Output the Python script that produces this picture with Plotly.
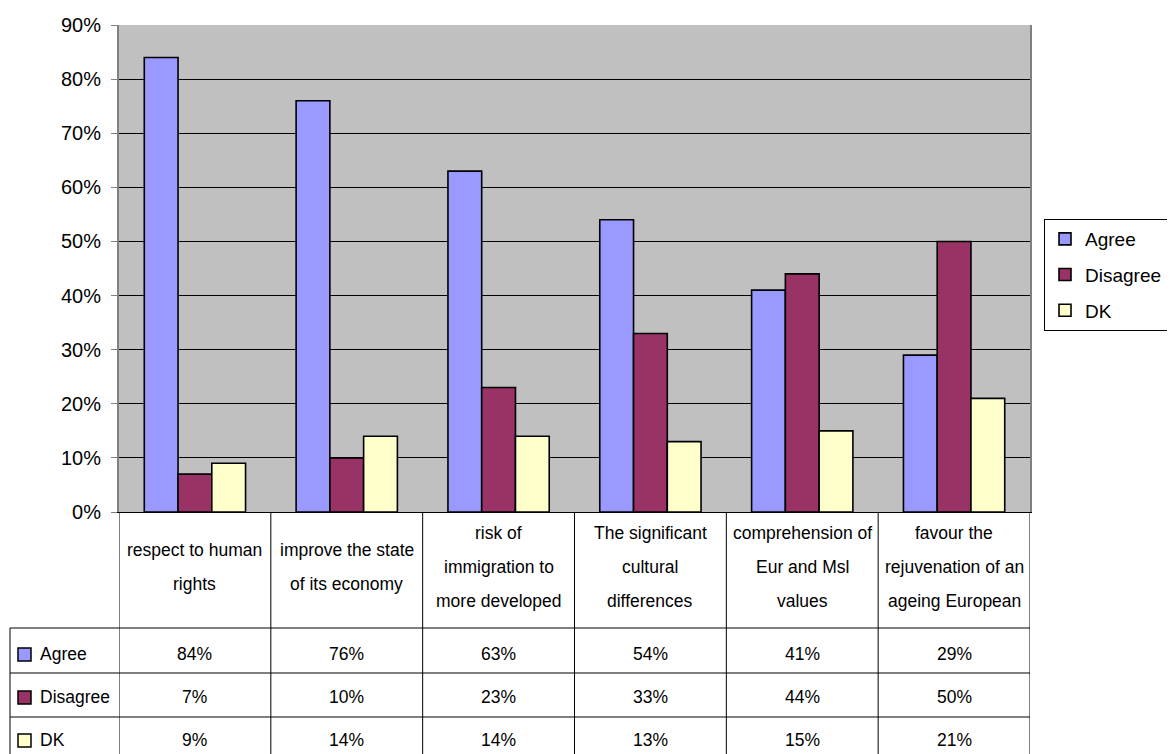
import plotly.graph_objects as go

categories = [
    "respect to human<br>rights",
    "improve the state<br>of its economy",
    "risk of<br>immigration to<br>more developed",
    "The significant<br>cultural<br>differences",
    "comprehension of<br>Eur and Msl<br>values",
    "favour the<br>rejuvenation of an<br>ageing European",
]
series_names = ["Agree", "Disagree", "DK"]
agree = [0.84, 0.76, 0.63, 0.54, 0.41, 0.29]
disagree = [0.07, 0.10, 0.23, 0.33, 0.44, 0.50]
dk = [0.09, 0.14, 0.14, 0.13, 0.15, 0.21]
colors = ["#9999FF", "#993366", "#FFFFCC"]
y_ticks = [0, 0.1, 0.2, 0.3, 0.4, 0.5, 0.6, 0.7, 0.8, 0.9]

# page body has an 8px default margin; size the figure to the visible window
OFF = 8
W, H = 1175 - OFF, 754 - OFF
def px(x):
    return (x - OFF) / W
def py(y):
    return 1 - (y - OFF) / H

x_pos = list(range(len(categories)))
values = [agree, disagree, dk]

fig = go.Figure()
for i, (name, vals) in enumerate(zip(series_names, values)):
    fig.add_trace(go.Bar(
        x=x_pos, y=vals, name=name,
        marker=dict(color=colors[i], line=dict(color="black", width=1.6)),
        legendgroup=name,
    ))

PLOT_L, PLOT_R, PLOT_T, PLOT_B = 119, 1030, 25, 512
TICK_FONT = dict(family="Liberation Sans, Arial, sans-serif", size=20, color="black")
TABLE_FONT = dict(family="Liberation Sans, Arial, sans-serif", size=17.5, color="black")

fig.update_layout(
    width=W, height=H,
    margin=dict(l=0, r=0, t=0, b=0, autoexpand=False),
    paper_bgcolor="white",
    plot_bgcolor="#C0C0C0",
    barmode="group",
    bargap=0.333,
    bargroupgap=0,
    showlegend=True,
    legend=dict(
        x=px(1044), y=py(219), xanchor="left", yanchor="top",
        bordercolor="black", borderwidth=1, bgcolor="white",
        font=dict(family="Liberation Sans, Arial, sans-serif", size=19, color="black"),
        tracegroupgap=8,
    ),
    xaxis=dict(
        domain=[px(PLOT_L), px(PLOT_R)],
        range=[-0.5, len(categories) - 0.5],
        showticklabels=False, showgrid=False, zeroline=False,
        showline=True, linecolor="black", linewidth=1,
        fixedrange=True, automargin=False,
    ),
    yaxis=dict(
        domain=[py(PLOT_B), py(PLOT_T)],
        range=[0, 0.9],
        tickvals=y_ticks, tickformat=".0%",
        showgrid=True, gridcolor="black", gridwidth=1,
        zeroline=False,
        showline=True, linecolor="#808080", linewidth=2, mirror=True,
        ticks="outside", ticklen=6, tickcolor="#808080",
        ticklabelstandoff=6,
        tickfont=TICK_FONT, automargin=False,
    ),
)

shapes = []
# vertical table lines at category boundaries
for k in range(len(categories) + 1):
    shapes.append(dict(type="line", xref="x", yref="paper",
                       x0=k - 0.5, x1=k - 0.5, y0=py(PLOT_B), y1=0,
                       line=dict(color="black", width=1)))
# left border of the row-label column
shapes.append(dict(type="line", xref="paper", yref="paper",
                   x0=px(10), x1=px(10), y0=py(628), y1=0,
                   line=dict(color="black", width=1)))
# horizontal row lines
for yy in [628, 673, 717]:
    shapes.append(dict(type="line", xref="paper", yref="paper",
                       x0=px(10), x1=px(PLOT_R), y0=py(yy), y1=py(yy),
                       line=dict(color="black", width=1)))

annotations = []
# category labels (each line placed separately)
LINE_H = 34
for k, cat in enumerate(categories):
    lines = cat.split("<br>")
    n = len(lines)
    center = 567
    for j, ln in enumerate(lines):
        yc = center + (j - (n - 1) / 2) * LINE_H
        annotations.append(dict(x=k, y=py(yc), xref="x", yref="paper",
                                text=ln, showarrow=False, font=TABLE_FONT,
                                xanchor="center", yanchor="middle"))
# data rows
row_centers = [654, 697, 740]
for r, (name, vals) in enumerate(zip(series_names, values)):
    yc = row_centers[r]
    shapes.append(dict(type="rect", xref="paper", yref="paper",
                       x0=px(18), x1=px(31), y0=py(yc - 6), y1=py(yc + 7),
                       fillcolor=colors[r], line=dict(color="black", width=1.5)))
    annotations.append(dict(x=px(38), y=py(yc), xref="paper", yref="paper",
                            text=name, showarrow=False, font=TABLE_FONT,
                            xanchor="left", yanchor="middle"))
    for k, v in enumerate(vals):
        annotations.append(dict(x=k, y=py(yc), xref="x", yref="paper",
                                text=f"{round(v * 100)}%", showarrow=False,
                                font=TABLE_FONT, xanchor="center", yanchor="middle"))

fig.update_layout(shapes=shapes, annotations=annotations)
fig.write_html("out.html")
